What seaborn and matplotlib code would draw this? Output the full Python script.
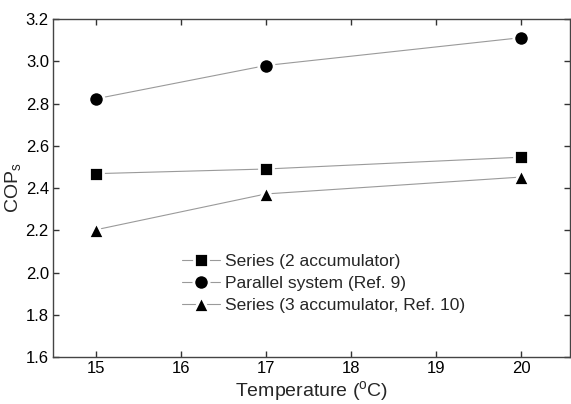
import matplotlib
matplotlib.use("Agg")
import matplotlib.pyplot as plt
import pandas as pd
import seaborn as sns

# values
temperature = [15, 17, 20]
cop_series_2acc = [2.468, 2.49, 2.546]
cop_parallel = [2.822, 2.98, 3.112]
cop_series_3acc = [2.202, 2.372, 2.452]

labels = [
    "Series (2 accumulator)",
    "Parallel system (Ref. 9)",
    "Series (3 accumulator, Ref. 10)",
]
markers = ["s", "o", "^"]
marker_sizes = [9.8, 11.0, 11.5]

sns.set_theme(style="ticks")
plt.rcParams["font.family"] = ["Liberation Sans", "DejaVu Sans"]
plt.rcParams["mathtext.fontset"] = "custom"
plt.rcParams["mathtext.rm"] = "Liberation Sans"

fig = plt.figure(figsize=(5.71, 4.04), dpi=100)
ax = fig.add_axes([0.0928, 0.1163, 0.9054, 0.8366])

for values, label, mk, ms in zip(
    [cop_series_2acc, cop_parallel, cop_series_3acc], labels, markers, marker_sizes
):
    df = pd.DataFrame({"temperature": temperature, "cop": values})
    sns.lineplot(
        data=df,
        x="temperature",
        y="cop",
        ax=ax,
        color="#9a9a9a",
        linewidth=0.8,
        marker=mk,
        markersize=ms,
        markerfacecolor="black",
        markeredgecolor="white",
        markeredgewidth=2.0,
        label=label,
    )

ax.set_xlim(14.5, 20.57)
ax.set_ylim(1.6, 3.2)
ax.set_xticks([15, 16, 17, 18, 19, 20])
ax.set_yticks([1.6, 1.8, 2.0, 2.2, 2.4, 2.6, 2.8, 3.0, 3.2])
ax.set_yticklabels([f"{v:.1f}" for v in ax.get_yticks()])

ax.tick_params(
    direction="in", length=4.5, width=1, colors="#333333",
    labelcolor="black", labelsize=12, top=True, right=True, pad=3,
)
for side in ["left", "bottom", "top", "right"]:
    ax.spines[side].set_visible(True)
    ax.spines[side].set_color("#444444")
    ax.spines[side].set_linewidth(1.0)

ax.set_xlabel("Temperature ($^\\mathregular{o}$C)", fontsize=14, labelpad=2)
ax.set_ylabel("COP$_\\mathregular{s}$", fontsize=14, labelpad=1)

ax.legend(
    loc="upper left",
    bbox_to_anchor=(0.236, 0.325),
    frameon=False,
    fontsize=12.5,
    handlelength=2.2,
    handletextpad=0.3,
    labelspacing=0.4,
    borderaxespad=0,
)

fig.savefig("out.png", dpi=100)
